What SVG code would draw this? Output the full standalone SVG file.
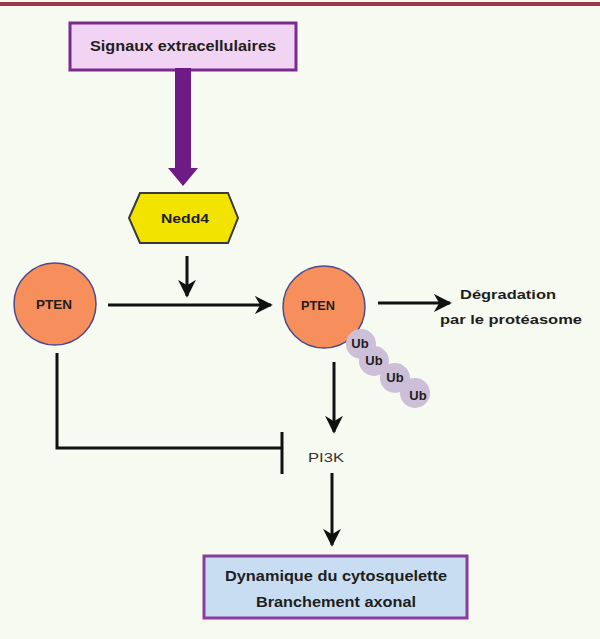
<svg xmlns="http://www.w3.org/2000/svg" width="600" height="639" viewBox="0 0 600 639">
<defs>
<style>
.t{font-family:"Liberation Sans",Arial,sans-serif;font-weight:bold;fill:#1e1e1e;text-anchor:middle}
.ln{stroke:#111;stroke-width:3;fill:none}
</style>
<marker id="ah" viewBox="0 0 10 10" refX="9" refY="5" markerWidth="6" markerHeight="6" markerUnits="strokeWidth" orient="auto">
<path d="M0,0 L10,5 L0,10 L3,5 Z" fill="#111"/>
</marker>
</defs>
<rect x="0" y="0" width="600" height="639" fill="#f6faf1"/>
<rect x="0" y="2" width="600" height="4" fill="#9a3a4c"/>

<g id="signaux">
<rect x="70" y="23" width="226" height="47" fill="#f1d3f3" stroke="#7b2a8e" stroke-width="3"/>
<text class="t" x="183" y="51" font-size="14" textLength="186" lengthAdjust="spacingAndGlyphs">Signaux extracellulaires</text>
</g>

<g id="nedd4">
<polygon points="129,218 140,193 228,193 238,218 228,243 140,243" fill="#f2e400" stroke="#3a3a3a" stroke-width="2"/>
<text class="t" x="185" y="223" font-size="13" textLength="48" lengthAdjust="spacingAndGlyphs">Nedd4</text>
</g>

<g id="pten1">
<circle cx="55" cy="304" r="41" fill="#f78f5c" stroke="#4d4a8a" stroke-width="1.5"/>
<text class="t" x="54" y="309" font-size="12" textLength="36" lengthAdjust="spacingAndGlyphs">PTEN</text>
</g>

<g id="pten2">
<circle cx="324" cy="307" r="41" fill="#f78f5c" stroke="#4d4a8a" stroke-width="1.5"/>
<text class="t" x="318" y="310" font-size="12" textLength="34" lengthAdjust="spacingAndGlyphs">PTEN</text>
</g>

<g id="ub">
<circle cx="415" cy="393" r="15" fill="#cdbfd8"/>
<circle cx="395" cy="378" r="15" fill="#cdbfd8"/>
<circle cx="374" cy="361" r="15" fill="#cdbfd8"/>
<circle cx="361" cy="344" r="15" fill="#cdbfd8"/>
<text class="t" x="360" y="348" font-size="13">Ub</text>
<text class="t" x="374" y="365" font-size="13">Ub</text>
<text class="t" x="395" y="382" font-size="13">Ub</text>
<text class="t" x="418" y="400" font-size="13">Ub</text>
</g>

<g id="degradation">
<text class="t" x="508" y="299" font-size="13" textLength="96" lengthAdjust="spacingAndGlyphs">Dégradation</text>
<text class="t" x="511" y="324" font-size="13" textLength="142" lengthAdjust="spacingAndGlyphs">par le protéasome</text>
</g>

<g id="pi3k">
<text class="t" x="326" y="462" font-size="13" textLength="36" lengthAdjust="spacingAndGlyphs" style="font-weight:normal;fill:#333">PI3K</text>
</g>

<g id="output">
<rect x="204" y="556" width="263" height="62" fill="#c9ddf2" stroke="#8a3c9c" stroke-width="3"/>
<text class="t" x="336" y="581" font-size="14" textLength="222" lengthAdjust="spacingAndGlyphs">Dynamique du cytosquelette</text>
<text class="t" x="336" y="607" font-size="14" textLength="160" lengthAdjust="spacingAndGlyphs">Branchement axonal</text>
</g>

<g id="connectors">
<polygon points="175,68 191,68 191,168 198,168 183,186 168,168 175,168" fill="#6e1b85"/>
<line class="ln" x1="187" y1="256" x2="187" y2="296" marker-end="url(#ah)"/>
<line class="ln" x1="108" y1="305" x2="271" y2="305" marker-end="url(#ah)"/>
<line class="ln" x1="378" y1="303" x2="450" y2="303" marker-end="url(#ah)"/>
<line class="ln" x1="334" y1="362" x2="334" y2="432" marker-end="url(#ah)"/>
<line class="ln" x1="332" y1="473" x2="332" y2="545" marker-end="url(#ah)"/>
<polyline class="ln" points="57,353 57,448 282,448"/>
<line class="ln" x1="282" y1="432" x2="282" y2="474" stroke-width="4"/>
</g>
</svg>
